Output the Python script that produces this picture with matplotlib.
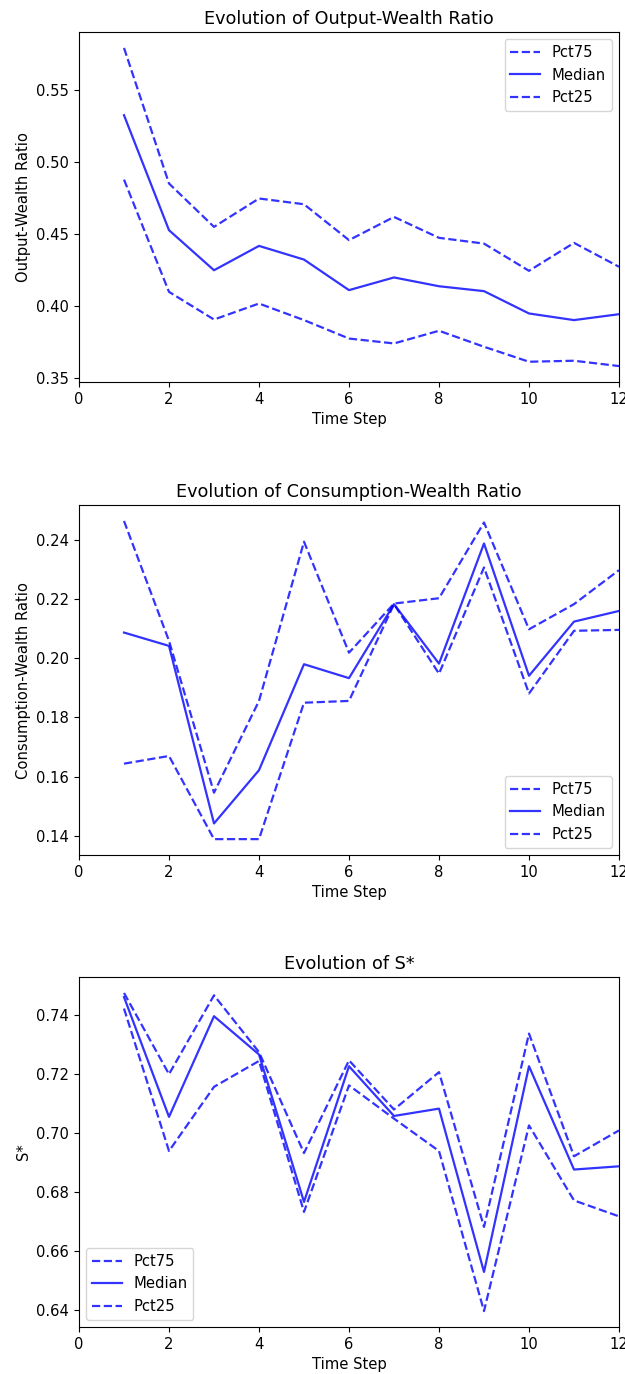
import matplotlib
matplotlib.use("Agg")
import matplotlib.pyplot as plt
import numpy as np

plt.rcParams["font.size"] = 10.6
plt.rcParams["lines.linewidth"] = 1.6

steps = np.arange(1, 13)

# output-wealth ratio percentiles
ow_p75 = [0.5794, 0.4853, 0.4552, 0.4749, 0.4709, 0.4460, 0.4621, 0.4476, 0.4436, 0.4247, 0.4441, 0.4275]
ow_med = [0.5327, 0.4529, 0.4251, 0.4420, 0.4325, 0.4113, 0.4201, 0.4140, 0.4106, 0.3951, 0.3905, 0.3946]
ow_p25 = [0.4880, 0.4101, 0.3909, 0.4020, 0.3905, 0.3777, 0.3743, 0.3831, 0.3720, 0.3616, 0.3623, 0.3586]

# consumption-wealth ratio percentiles
cw_p75 = [0.2464, 0.2059, 0.1546, 0.1856, 0.2394, 0.2019, 0.2185, 0.2203, 0.2459, 0.2098, 0.2183, 0.2298]
cw_med = [0.2087, 0.2042, 0.1442, 0.1622, 0.1980, 0.1933, 0.2183, 0.1982, 0.2388, 0.1941, 0.2124, 0.2160]
cw_p25 = [0.1644, 0.1670, 0.1389, 0.1389, 0.1850, 0.1856, 0.2183, 0.1948, 0.2307, 0.1881, 0.2093, 0.2096]

# S* percentiles
s_p75 = [0.7476, 0.7200, 0.7468, 0.7275, 0.6932, 0.7247, 0.7080, 0.7207, 0.6681, 0.7338, 0.6921, 0.7009]
s_med = [0.7462, 0.7055, 0.7397, 0.7267, 0.6766, 0.7227, 0.7058, 0.7083, 0.6528, 0.7227, 0.6876, 0.6887]
s_p25 = [0.7423, 0.6939, 0.7157, 0.7245, 0.6732, 0.7162, 0.7049, 0.6939, 0.6395, 0.7026, 0.6771, 0.6717]

panels = [
    ("Evolution of Output-Wealth Ratio", "Output-Wealth Ratio", ow_p75, ow_med, ow_p25, "upper right"),
    ("Evolution of Consumption-Wealth Ratio", "Consumption-Wealth Ratio", cw_p75, cw_med, cw_p25, "lower right"),
    ("Evolution of S*", "S*", s_p75, s_med, s_p25, "lower left"),
]

fig = plt.figure(figsize=(6.25, 13.74), dpi=100)
bottoms = [0.7220, 0.3777, 0.0342]

for (title, ylab, p75, med, p25, loc), b in zip(panels, bottoms):
    ax = fig.add_axes([0.1264, b, 0.864, 0.2547])
    ax.plot(steps, p75, color="b", alpha=0.8, linestyle="--", label="Pct75")
    ax.plot(steps, med, color="b", alpha=0.8, label="Median")
    ax.plot(steps, p25, color="b", alpha=0.8, linestyle="--", label="Pct25")
    ax.set_xlim(0, 12)
    ax.set_title(title)
    ax.set_xlabel("Time Step")
    ax.set_ylabel(ylab)
    ax.legend(loc=loc)

fig.savefig("out.png", dpi=100)
